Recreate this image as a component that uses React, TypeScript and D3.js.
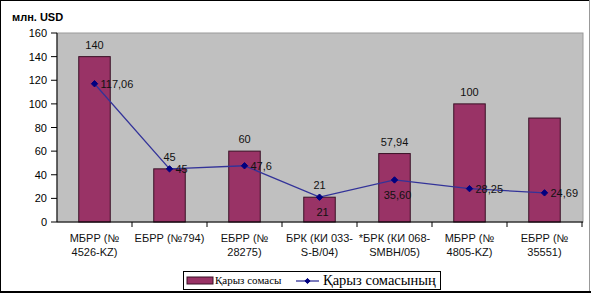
import React from "react";
import * as d3 from "d3";

const categories = ["МБРР (№ 4526-KZ)", "ЕБРР (№794)", "ЕБРР (№ 28275)", "БРК (КИ 033-S-B/04)", "*БРК (КИ 068-SMBH/05)", "МБРР (№ 4805-KZ)", "ЕБРР (№ 35551)"];
const categoryLines = [["МБРР (№", "4526-KZ)"], ["ЕБРР (№794)"], ["ЕБРР (№", "28275)"], ["БРК (КИ 033-", "S-B/04)"], ["*БРК (КИ 068-", "SMBH/05)"], ["МБРР (№", "4805-KZ)"], ["ЕБРР (№", "35551)"]];
const barValues = [140, 45, 60, 21, 57.94, 100, 88];
const barLabels = ["140", "45", "60", "21", "57,94", "100", ""];
const lineValues = [117.06, 45, 47.6, 21, 35.6, 28.25, 24.69];
const lineLabels = ["117,06", "45", "47,6", "21", "35,60", "28,25", "24,69"];
const lineLabelPlacement = ["right", "right", "right", "below", "below", "right", "right"];
const yTicks = [0, 20, 40, 60, 80, 100, 120, 140, 160];
const seriesNames = ["Қарыз сомасы", "Қарыз сомасының"];

const W = 591, H = 295;
const left = 57, right = 582, top = 33, bottom = 222;
const sans = "Arial, 'Liberation Sans', sans-serif";
const serif = "'Times New Roman', 'Liberation Serif', serif";

export default function App() {
  const x = d3.scaleBand<string>().domain(categories).range([left, right]).padding(0);
  const y = d3.scaleLinear().domain([0, 160]).range([bottom, top]);
  const bw = x.bandwidth() * 0.42;
  const cx = (c: string) => (x(c) as number) + x.bandwidth() / 2;
  const line = d3.line<number>().x((_, i) => cx(categories[i])).y((v) => y(v));
  const diamond = (px: number, py: number, r = 3.2) => `M${px},${py - r}L${px + r},${py}L${px},${py + r}L${px - r},${py}Z`;

  return (
    <svg width={W} height={H} style={{ position: "absolute", left: 0, top: 0 }} xmlns="http://www.w3.org/2000/svg">
      <rect x={0} y={0} width={W} height={H} fill="#fff" />
      {/* frame */}
      <line x1={0} y1={0.5} x2={590} y2={0.5} stroke="#000" />
      <line x1={0.5} y1={0} x2={0.5} y2={293} stroke="#000" />
      <line x1={589.5} y1={0} x2={589.5} y2={293} stroke="#999" />
      <line x1={0} y1={292} x2={591} y2={292} stroke="#000" strokeWidth={2} />

      <text x={12} y={21} fontFamily={sans} fontSize={11} fontWeight="bold" fill="#000">млн. USD</text>

      {/* plot area */}
      <rect x={left} y={top} width={right - left + 1} height={bottom - top} fill="#c0c0c0" stroke="#9a9a9a" />

      {/* y axis */}
      <line x1={left} y1={top} x2={left} y2={bottom} stroke="#000" />
      {yTicks.map((t) => (
        <g key={t}>
          <line x1={left - 6} y1={y(t)} x2={left} y2={y(t)} stroke="#000" />
          <text x={47} y={y(t) + 4} textAnchor="end" fontFamily={sans} fontSize={11} fill="#000">{t}</text>
        </g>
      ))}

      {/* bars */}
      {categories.map((c, i) => (
        <rect key={c} x={cx(c) - bw / 2} y={y(barValues[i])} width={bw} height={bottom - y(barValues[i])} fill="#993366" stroke="#3a1026" strokeWidth={1} />
      ))}

      {/* x axis */}
      <line x1={left} y1={bottom} x2={right + 1} y2={bottom} stroke="#000" />
      {categories.map((c) => (
        <line key={c} x1={(x(c) as number) + x.bandwidth()} y1={bottom} x2={(x(c) as number) + x.bandwidth()} y2={bottom + 5} stroke="#000" />
      ))}
      {categories.map((c, i) => (
        <text key={c} textAnchor="middle" fontFamily={sans} fontSize={11} fill="#111">
          {categoryLines[i].map((l, k) => (
            <tspan key={k} x={cx(c)} y={242 + k * 14}>{l}</tspan>
          ))}
        </text>
      ))}

      {/* bar labels */}
      {categories.map((c, i) => (
        <text key={c} x={cx(c)} y={y(barValues[i]) - 8} textAnchor="middle" fontFamily={sans} fontSize={11} fill="#111">{barLabels[i]}</text>
      ))}

      {/* line series */}
      <path d={line(lineValues) || ""} fill="none" stroke="#333399" strokeWidth={1.3} />
      {categories.map((c, i) => (
        <path key={c} d={diamond(cx(c), y(lineValues[i]))} fill="#000080" stroke="#000080" />
      ))}
      {categories.map((c, i) => {
        const px = cx(c), py = y(lineValues[i]);
        const below = lineLabelPlacement[i] === "below";
        return (
          <text key={c} x={below ? px + 3 : px + 6} y={below ? py + 19 : py + 4} textAnchor={below ? "middle" : "start"} fontFamily={sans} fontSize={11} fill="#111">{lineLabels[i]}</text>
        );
      })}

      {/* legend */}
      <rect x={183.5} y={271.5} width={257} height={18} fill="#fff" stroke="#000" />
      <rect x={187} y={277} width={26} height={7} fill="#993366" stroke="#3a1026" />
      <text x={215} y={284} fontFamily={serif} fontSize={11} fill="#000">{seriesNames[0]}</text>
      <line x1={296} y1={281} x2={319} y2={281} stroke="#333399" strokeWidth={1.3} />
      <path d={diamond(307.5, 281, 2.6)} fill="#000080" stroke="#000080" />
      <text x={323} y={285} fontFamily={serif} fontSize={14.5} fill="#000">{seriesNames[1]}</text>
    </svg>
  );
}
